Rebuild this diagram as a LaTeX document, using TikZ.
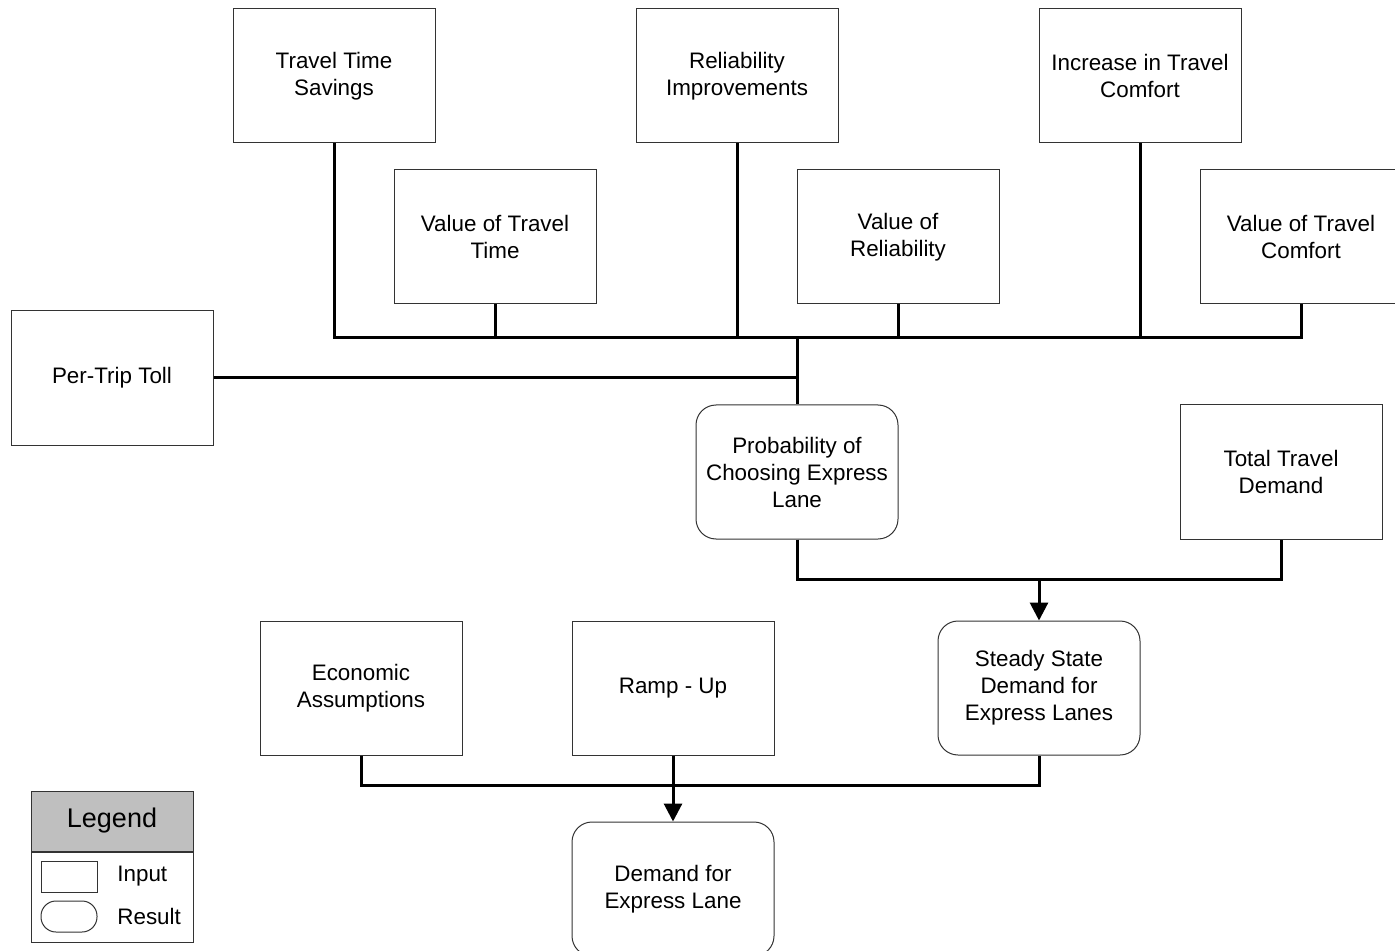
\documentclass[tikz,border=0pt]{standalone}
\usepackage{fontspec}
\setmainfont{Liberation Sans}
\usetikzlibrary{arrows.meta}
\begin{document}
\begin{tikzpicture}[x=0.5pt,y=-0.5pt,
  box/.style={draw=black!80,line width=0.5pt,minimum width=101pt,minimum height=67pt,inner sep=0pt,align=center,
    font=\fontsize{11.2}{13.5}\selectfont},
  res/.style={box,rounded corners=10pt},
  conn/.style={line width=1.5pt,line cap=butt},
  arr/.style={conn,-{Triangle[length=9pt,width=9pt]}},
  lbl/.style={font=\fontsize{11.2}{13.5}\selectfont,anchor=west,inner sep=0pt}]
\useasboundingbox (0,0) rectangle (1395,951);
\node[box] (tts) at (334,76) {Travel Time\\Savings};
\node[box] (rel) at (737,76) {Reliability\\Improvements};
\node[box] (itc) at (1140,76) {Increase in Travel\\Comfort};
\node[box] (vtt) at (495,237) {Value of Travel\\Time};
\node[box] (vor) at (898,237) {Value of\\Reliability};
\node[box] (vtc) at (1301,237) {Value of Travel\\Comfort};
\node[box] (toll) at (112,378) {Per-Trip Toll};
\node[res] (prob) at (797,472) {Probability of\\Choosing Express\\Lane};
\node[box] (ttd) at (1281,472) {Total Travel\\Demand};
\node[box] (econ) at (361,688) {Economic\\Assumptions};
\node[box] (ramp) at (673,688) {Ramp - Up};
\node[res] (ssd) at (1039,688) {Steady State\\Demand for\\Express Lanes};
\node[res] (dem) at (673,889) {Demand for\\Express Lane};
\coordinate (bus) at (797,338);
\coordinate (m2) at (1039,579);
\coordinate (m3) at (673,785);
% top tree
\draw[conn] (tts.south) |- (vtc.south |- bus) -- (vtc.south);
\draw[conn] (vtt.south) -- (vtt.south |- bus);
\draw[conn] (rel.south) -- (rel.south |- bus);
\draw[conn] (vor.south) -- (vor.south |- bus);
\draw[conn] (itc.south) -- (itc.south |- bus);
\draw[conn] (bus) -- (prob.north);
\draw[conn] (toll.east) -- (toll.east -| prob.north);
% middle
\draw[conn] (prob.south) |- (ttd.south |- m2) -- (ttd.south);
\draw[arr] (m2) -- (ssd.north);
% bottom
\draw[conn] (econ.south) |- (ssd.south |- m3) -- (ssd.south);
\draw[arr] (ramp.south) -- (dem.north);
% legend
\node[draw=black!80,line width=0.5pt,fill=black!25,minimum width=81pt,minimum height=30pt,inner sep=0pt,
  font=\fontsize{13.5}{16}\selectfont] (lh) at (112,821) {Legend};
\node[draw=black!80,line width=0.5pt,minimum width=81pt,minimum height=45pt,inner sep=0pt,anchor=north] (lb) at (lh.south) {};
\node[draw=black!80,line width=0.5pt,minimum width=28pt,minimum height=15.5pt,inner sep=0pt] (lin) at (69,876.5) {};
\node[draw=black!80,line width=0.5pt,minimum width=28pt,minimum height=15.5pt,inner sep=0pt,rounded corners=7.5pt] (lres) at (69,916.5) {};
\node[lbl] (tin) at (117,876) {Input};
\node[lbl] (tres) at (117,916) {Result};
\end{tikzpicture}
\end{document}
